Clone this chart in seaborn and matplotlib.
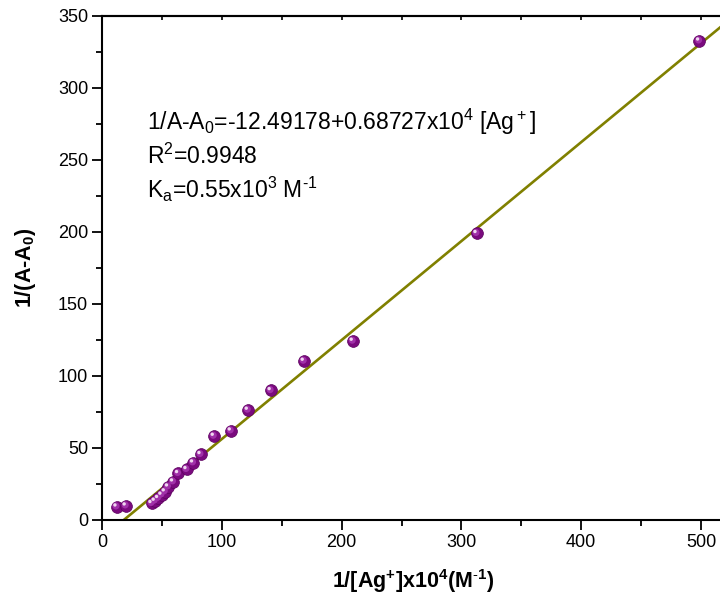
import numpy as np
import pandas as pd
import seaborn as sns
import matplotlib
matplotlib.use("Agg")
import matplotlib.pyplot as plt
from matplotlib.transforms import offset_copy
from matplotlib.ticker import MultipleLocator

# Benesi-Hildebrand data: 1/[Ag+] (x10^4 M^-1) vs 1/(A-A0)
inv_ag = [12.3, 20.0, 41.5, 44.2, 47.0, 49.8, 52.6, 55.3, 59.5, 63.7, 70.7,
          76.2, 82.4, 93.5, 107.7, 121.9, 141.0, 168.6, 209.5, 312.8, 498.6]
inv_abs = [9.2, 9.9, 11.6, 13.2, 15.1, 17.4, 19.7, 23.1, 26.6, 32.4, 35.2,
           39.8, 45.6, 58.3, 62.0, 76.4, 90.0, 110.4, 124.3, 199.1, 332.8]

# Linear fit parameters
intercept = -12.49178
slope = 0.68727

x_ticks = [0, 100, 200, 300, 400, 500]
y_ticks = [0, 50, 100, 150, 200, 250, 300, 350]

sns.set_theme(style="ticks")
plt.rcParams["font.family"] = ["Liberation Sans", "DejaVu Sans"]
plt.rcParams["mathtext.fontset"] = "custom"
plt.rcParams["mathtext.rm"] = "Liberation Sans"
plt.rcParams["mathtext.bf"] = "Liberation Sans:bold"
plt.rcParams["mathtext.default"] = "regular"
plt.rcParams["text.color"] = "black"
plt.rcParams["axes.labelcolor"] = "black"
plt.rcParams["xtick.color"] = "black"
plt.rcParams["ytick.color"] = "black"

W, H = 720, 607
fig = plt.figure(figsize=(W / 100, H / 100), dpi=100)
left, right, top, bottom = 102, 725, 16, 520
ax = fig.add_axes([left / W, 1 - bottom / H, (right - left) / W, (bottom - top) / H])

df = pd.DataFrame({"x": inv_ag, "y": inv_abs})

# fitted line
fx = np.array([0.0, 530.0])
fit = pd.DataFrame({"x": fx, "y": intercept + slope * fx})
sns.lineplot(data=fit, x="x", y="y", color="#808000", lw=1.9, ax=ax, zorder=2)

# sphere-like markers: body, lighter core, highlight
sns.scatterplot(data=df, x="x", y="y", s=72, color="#7a0a7e", edgecolor="#5c005e",
                linewidth=0.5, ax=ax, zorder=3)
sns.scatterplot(data=df, x="x", y="y", s=26, color="#a030a8", edgecolor="none",
                ax=ax, zorder=4,
                transform=offset_copy(ax.transData, fig=fig, x=-0.8, y=0.8, units="dots"))
sns.scatterplot(data=df, x="x", y="y", s=6, color="#f0d8f0", edgecolor="none",
                ax=ax, zorder=5,
                transform=offset_copy(ax.transData, fig=fig, x=-1.8, y=1.8, units="dots"))

ax.set_xlim(0, 520)
ax.set_ylim(0, 350)
ax.set_xticks(x_ticks)
ax.set_yticks(y_ticks)
ax.xaxis.set_minor_locator(MultipleLocator(50))
ax.yaxis.set_minor_locator(MultipleLocator(25))

for s in ax.spines.values():
    s.set_linewidth(1.5)
    s.set_color("black")

ax.tick_params(axis="both", which="major", direction="out", length=7, width=1.3,
               labelsize=13, pad=3)
ax.tick_params(axis="both", which="minor", direction="out", length=4, width=1.3)

# short inward ticks along the top edge
top_ax = ax.secondary_xaxis("top")
top_ax.set_xticks(x_ticks)
top_ax.xaxis.set_minor_locator(MultipleLocator(50))
top_ax.tick_params(which="both", direction="in", length=3, width=1.2, labeltop=False)
top_ax.spines["top"].set_linewidth(1.5)

ax.set_xlabel(r"1/[Ag$^{\mathbf{+}}$]x10$^{\mathbf{4}}$(M$^{\mathbf{\text{-}1}}$)",
              fontsize=15.5, fontweight="bold", labelpad=12)
ax.set_ylabel(r"1/(A-A$_{\mathbf{0}}$)", fontsize=15.5, fontweight="bold", labelpad=14)

# fit equation annotation
tx = 147 / W
fig.text(tx, 1 - 130 / H, r"1/A-A$_0$=-12.49178+0.68727x10$^4$ [Ag$^+$]",
         fontsize=16.5, va="baseline", ha="left")
fig.text(tx, 1 - 164 / H, r"R$^2$=0.9948",
         fontsize=16.5, va="baseline", ha="left")
fig.text(tx, 1 - 198 / H, r"K$_a$=0.55x10$^3$ M$^{\text{-}1}$",
         fontsize=16.5, va="baseline", ha="left")

fig.savefig("out.png", dpi=100)
